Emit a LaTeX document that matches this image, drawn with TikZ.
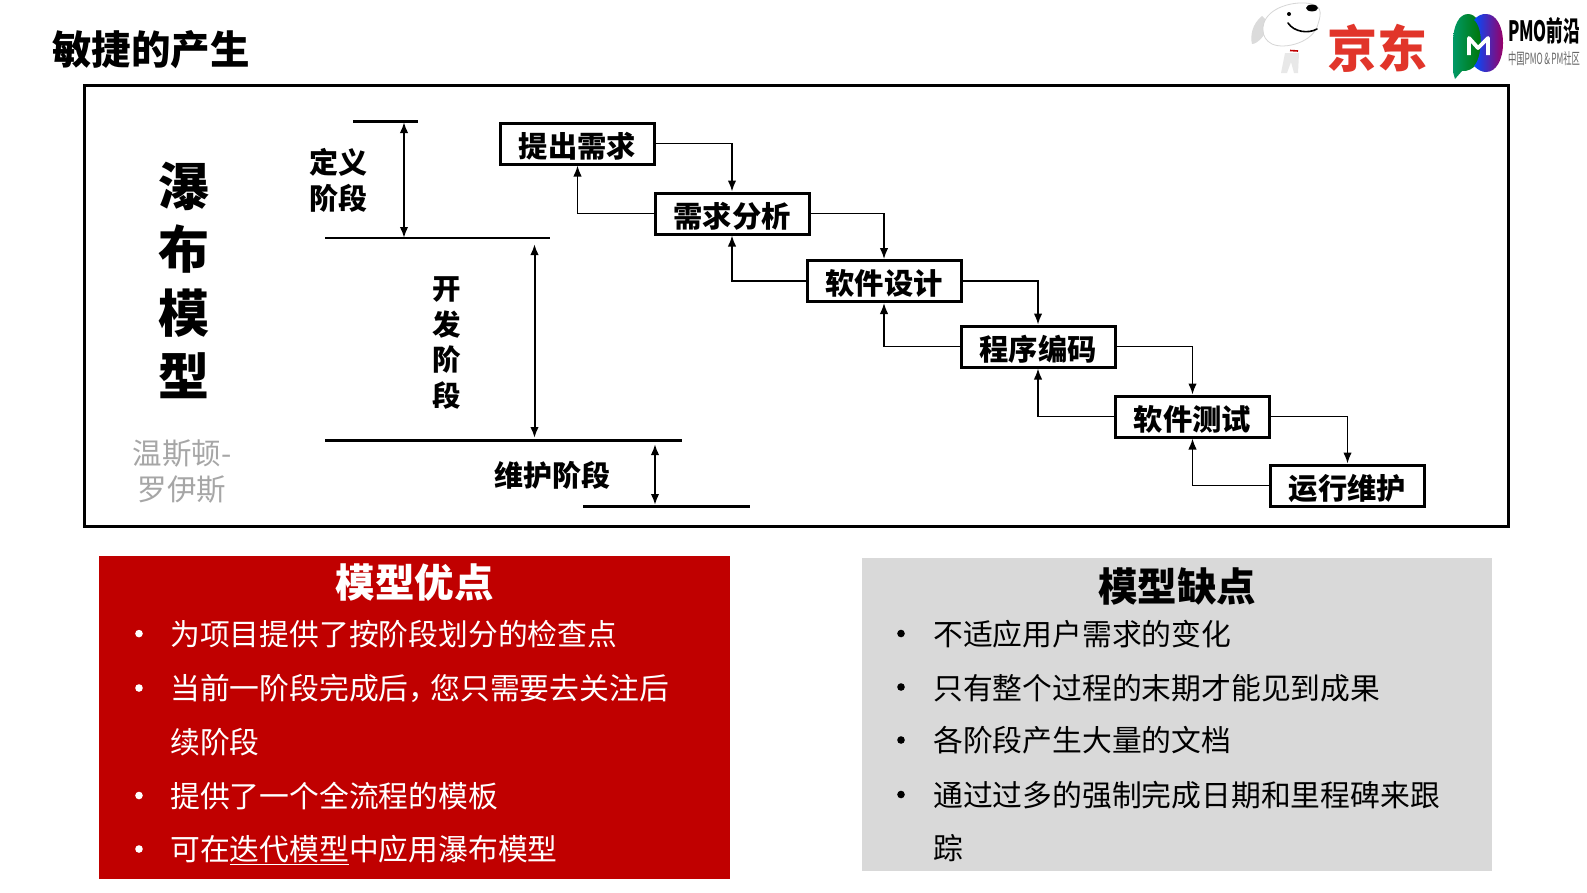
\documentclass[tikz,border=0pt]{standalone}
\usepackage{fontspec}
\setmainfont{Noto Sans CJK SC}
\usetikzlibrary{arrows.meta,calc}
\definecolor{jdred}{HTML}{E1352A}
\definecolor{mainred}{HTML}{C00000}
\definecolor{panelgray}{HTML}{D9D9D9}
\tikzset{
  stagebox/.style={draw=black,line width=3pt,fill=white,minimum width=154pt,minimum height=41pt,inner sep=0pt,text height=31pt,text depth=3.2pt,font=\fontsize{29.3}{32}\selectfont\bfseries},
  flow/.style={draw=black,line width=1.6pt,-{Latex[length=11pt,width=8.5pt]}},
  span/.style={draw=black,line width=2pt,{Latex[length=11pt,width=8.5pt]}-{Latex[length=11pt,width=8.5pt]}},
  rulel/.style={draw=black,line width=2.2pt},
  lbl/.style={inner sep=0pt,align=center,font=\fontsize{29}{36}\selectfont\bfseries},
  itemtxt/.style={inner sep=0pt,anchor=west,font=\fontsize{29.8}{30}\selectfont},
  headtxt/.style={inner sep=0pt,font=\fontsize{39.5}{42}\selectfont\bfseries},
}
\begin{document}
\begin{tikzpicture}[x=1pt,y=-1pt]
\useasboundingbox (0,0) rectangle (1587,892);
\fill[white] (0,0) rectangle (1587,892);

\node[inner sep=0pt,anchor=west,font=\fontsize{39.5}{42}\selectfont\bfseries] (title) at (52,50) {敏捷的产生};

% logos
\fill[black!14] (1262,16) .. controls (1252,24) and (1250,36) .. (1252,44) .. controls (1258,44) and (1266,34) .. (1270,24) -- cycle;
\draw[black!16,fill=white,line width=0.8pt] (1263,30) .. controls (1262,12) and (1285,2) .. (1305,3) .. controls (1322,4) and (1322,12) .. (1318,24) .. controls (1314,42) and (1285,50) .. (1272,44) .. controls (1266,41) and (1263,36) .. (1263,30) -- cycle;
\fill[black] (1312,8) ellipse (6pt and 3.4pt);
\fill[black] (1289,14) circle (2pt);
\draw[black,line width=1.6pt,line cap=round] (1288,23) .. controls (1294,32) and (1308,34) .. (1317,29);
\fill[black!9] (1285,53) -- (1299,53) -- (1298,73) -- (1294,73) -- (1291,62) -- (1287,73) -- (1281,73) -- cycle;
\draw[red!75!black,line width=1.6pt] (1290,50.5) -- (1298,51);
\node[inner sep=0pt,text=jdred,font=\fontsize{50}{52}\selectfont\bfseries] (jd) at (1377,48) {京东};

\shade[left color=teal!80!green,right color=green!45!black] (1483,42) .. controls (1483,24) and (1476,14) .. (1468,14) .. controls (1459,14) and (1453,26) .. (1453,42) -- (1453,72) -- (1455,79) -- (1462,71) .. controls (1474,72) and (1483,60) .. (1483,42) -- cycle;
\shade[left color=blue!70!cyan,right color=violet!80!red] (1474,20) .. controls (1478,15) and (1482,14) .. (1486,14) .. controls (1496,14) and (1503,26) .. (1503,43) .. controls (1503,60) and (1496,72) .. (1486,72) .. controls (1482,72) and (1478,70) .. (1474,66) .. controls (1482,58) and (1484,28) .. (1474,20) -- cycle;
\draw[white,line width=3.8pt,line join=round] (1469,55) -- (1469,38) -- (1478,48) -- (1488,38) -- (1488,55);
\node[inner sep=0pt] (pmo) at (1544,31) {\resizebox{72pt}{24pt}{\bfseries PMO前沿}};
\node[inner sep=0pt,text=black!60] (pmosub) at (1544,59) {\resizebox{72pt}{13pt}{中国PMO\,\&\,PM社区}};

% frame
\draw[black,line width=3pt] (84,85) rectangle (1508.5,526);

% left column
\node[lbl,font=\fontsize{51}{63.3}\selectfont\bfseries] (wf) at (184,280.5) {瀑\\布\\模\\型};
\node[lbl,text=black!35,font=\fontsize{29.5}{35.5}\selectfont] (author) at (182,471.5) {温斯顿-\\罗伊斯};
\node[lbl] (defn) at (338,180) {定义\\阶段};
\node[lbl,font=\fontsize{28.5}{35.8}\selectfont\bfseries] (dev) at (447,343) {开\\发\\阶\\段};
\node[lbl] (maint) at (552.6,475.5) {维护阶段};

% stage rules
\coordinate (r1a) at (353,121.5); \coordinate (r1b) at (418,121.5);
\coordinate (r2a) at (325,238);   \coordinate (r2b) at (550,238);
\coordinate (r3a) at (325,440.5); \coordinate (r3b) at (682,440.5);
\coordinate (r4a) at (583,506.5); \coordinate (r4b) at (750,506.5);
\draw[rulel] (r1a) -- (r1b);
\draw[rulel] (r2a) -- (r2b);
\draw[rulel] (r3a) -- (r3b);
\draw[rulel] (r4a) -- (r4b);
\coordinate (s1a) at (404,122); \coordinate (s1b) at (404,238);
\coordinate (s2a) at (534.5,244); \coordinate (s2b) at (534.5,438);
\coordinate (s3a) at (655,444); \coordinate (s3b) at (655,505);
\draw[span] (s1a) -- (s1b);
\draw[span] (s2a) -- (s2b);
\draw[span] (s3a) -- (s3b);

% stages
\node[stagebox] (n1) at (577.5,143.5) {提出需求};
\node[stagebox] (n2) at (732,213.5)   {需求分析};
\node[stagebox] (n3) at (884,281)     {软件设计};
\node[stagebox] (n4) at (1038,346.5)  {程序编码};
\node[stagebox] (n5) at (1192.5,416.5){软件测试};
\node[stagebox] (n6) at (1347.5,485.5){运行维护};

\foreach \a/\b in {n1/n2,n2/n3,n3/n4,n4/n5,n5/n6}{
  \draw[flow] (\a.east) -| (\b.north);
  \draw[flow] (\b.west) -| (\a.south);
}

% red panel
\node[fill=mainred,minimum width=631pt,minimum height=322.5pt,inner sep=0pt] (pros) at (414.5,717.5) {};
\node[headtxt,text=white] (prosh) at (414.5,583) {模型优点};
\foreach \y/\t in {634.4/为项目提供了按阶段划分的检查点,688.8/{当前一阶段完成后，\kern-8pt 您只需要去关注后},742.6/续阶段,796/提供了一个全流程的模板,849.6/{可在\underline{迭代模型}中应用瀑布模型}}{
  \node[itemtxt,text=white] at (170,\y) {\t};
}
\foreach \y in {633.6,688,795.5,849}{
  \fill[white] (139,\y) circle (3.8pt);
}

% gray panel
\node[fill=panelgray,minimum width=630pt,minimum height=313.5pt,inner sep=0pt] (cons) at (1177,714.5) {};
\node[headtxt,text=black] (consh) at (1177,586) {模型缺点};
\foreach \y/\t in {634/不适应用户需求的变化,688/只有整个过程的末期才能见到成果,740.4/各阶段产生大量的文档,795/通过过多的强制完成日期和里程碑来跟,847.6/踪}{
  \node[itemtxt,text=black] at (933,\y) {\t};
}
\foreach \y in {633.5,687,740,794.5}{
  \fill[black] (901,\y) circle (3.8pt);
}
\end{tikzpicture}
\end{document}
